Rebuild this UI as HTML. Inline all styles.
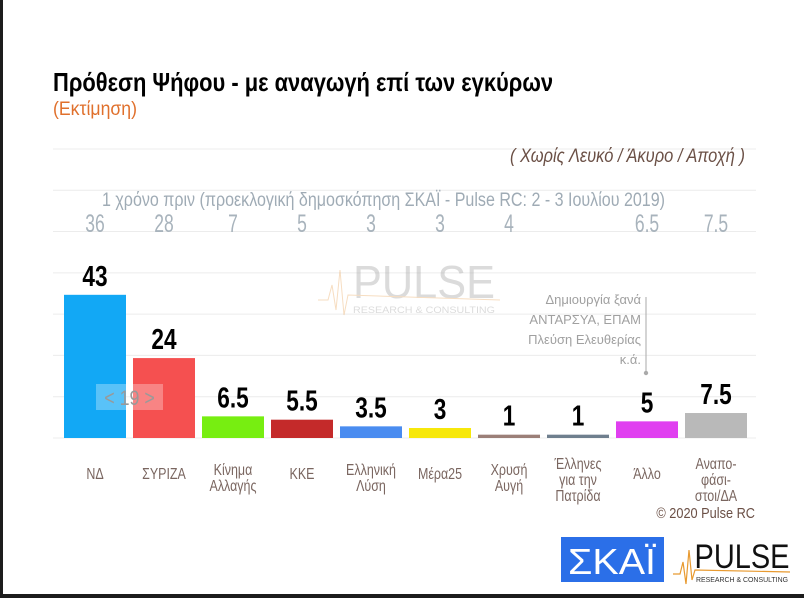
<!DOCTYPE html>
<html><head><meta charset="utf-8"><style>
html,body{margin:0;padding:0;background:#fff}
svg{display:block}
text{font-family:"Liberation Sans","DejaVu Sans",sans-serif}
</style></head><body>
<svg width="804" height="598" viewBox="0 0 804 598" xmlns="http://www.w3.org/2000/svg">
<rect x="0" y="0" width="804" height="598" fill="#fff"/>
<rect x="0" y="0" width="3" height="598" fill="#1c1c1c"/>
<rect x="0" y="594" width="804" height="4" fill="#1c1c1c"/>
<text x="53" y="91" font-size="26" font-weight="bold" fill="#000" textLength="500" lengthAdjust="spacingAndGlyphs">Πρόθεση Ψήφου - με αναγωγή επί των εγκύρων</text>
<text x="53" y="115" font-size="19" fill="#e0702c" textLength="84" lengthAdjust="spacingAndGlyphs">(Εκτίμηση)</text>
<g id="grid"></g>
<text x="745" y="162" font-size="19" font-style="italic" fill="#6b5046" text-anchor="end" textLength="235" lengthAdjust="spacingAndGlyphs">( Χωρίς Λευκό / Άκυρο / Αποχή )</text>
<text x="102" y="206" font-size="19" fill="#9fabb5" textLength="563" lengthAdjust="spacingAndGlyphs">1 χρόνο πριν (προεκλογική δημοσκόπηση ΣΚΑΪ - Pulse RC:  2 - 3 Ιουλίου 2019)</text>
<g opacity="0.35">
<text x="424" y="298" font-size="46" fill="#9a9a9a" text-anchor="middle" textLength="142" lengthAdjust="spacingAndGlyphs">PULSE</text>
<text x="424" y="313" font-size="9" fill="#9a9a9a" text-anchor="middle" textLength="142" lengthAdjust="spacingAndGlyphs">RESEARCH &amp; CONSULTING</text>
<polyline points="318,300 328,300 332,285 336,310 340,270 344,315 348,295 500,300" fill="none" stroke="#e8a050" stroke-width="1"/>
</g>
<g id="prev"></g>
<g id="bars"></g>
<g id="vals"></g>
<g id="cats"></g>
<g font-size="13" fill="#a0a0a0" text-anchor="end">
<text x="641" y="304">Δημιουργία ξανά</text>
<text x="641" y="324">ΑΝΤΑΡΣΥΑ, ΕΠΑΜ</text>
<text x="641" y="344">Πλεύση Ελευθερίας</text>
<text x="641" y="364">κ.ά.</text>
<line x1="646" y1="297" x2="646" y2="373" stroke="#aaa" stroke-width="1"/>
<circle cx="646" cy="373" r="2.2" fill="#aaa"/>
</g>
<g>
<rect x="96" y="384" width="67" height="26" fill="#fff" opacity="0.3"/>
<text x="129.5" y="405" font-size="21" fill="#999" text-anchor="middle" transform="translate(129.5,0) scale(0.85,1) translate(-129.5,0)">&lt; 19 &gt;</text>
</g>
<text x="755" y="518" font-size="15" fill="#6b5046" text-anchor="end" transform="translate(755,0) scale(0.85,1) translate(-755,0)">© 2020 Pulse RC</text>
<g>
<rect x="561" y="537" width="103" height="45" fill="#2b6fe8"/>
<text x="612" y="574" font-size="36" fill="#fff" text-anchor="middle" textLength="88" lengthAdjust="spacingAndGlyphs">ΣΚΑΪ</text>
</g>
<g>
<text x="742" y="568" font-size="34" fill="#111" text-anchor="middle" textLength="95" lengthAdjust="spacingAndGlyphs">PULSE</text>
<text x="742" y="582" font-size="7" fill="#333" text-anchor="middle" textLength="92" lengthAdjust="spacingAndGlyphs">RESEARCH &amp; CONSULTING</text>
<polyline points="673,574 680,574 683,562 686,584 689,550 692,580 695,570 790,572" fill="none" stroke="#e89a30" stroke-width="1.2"/>
</g>
</svg>
<script>
const categories = [["ΝΔ"],["ΣΥΡΙΖΑ"],["Κίνημα","Αλλαγής"],["ΚΚΕ"],["Ελληνική","Λύση"],["Μέρα25"],["Χρυσή","Αυγή"],["Έλληνες","για την","Πατρίδα"],["Άλλο"],["Αναπο-","φάσι-","στοι/ΔΑ"]];
const values = [43,24,6.5,5.5,3.5,3,1,1,5,7.5];
const previousValues = ["36","28","7","5","3","3","4","","6.5","7.5"];
const valueLabels = ["43","24","6.5","5.5","3.5","3","1","1","5","7.5"];
const colors = ["#12a8f5","#f55050","#77ee11","#c42a2a","#4a8cf0","#f7e80a","#9b7f78","#6f7f8e","#e03ff0","#b9b9b9"];
const gridTicks = [0,12.4,24.8,37.2,49.6,62,74.4,86.8];
const NS="http://www.w3.org/2000/svg";
const baseY=438, pxPer=3.33, x0=64, step=69, bw=62;
const yS=v=>baseY-v*pxPer;
const xS=i=>x0+i*step;
function mk(tag,attrs,parent){const e=document.createElementNS(NS,tag);for(const k in attrs)e.setAttribute(k,attrs[k]);parent.appendChild(e);return e;}
const grid=document.getElementById('grid');
gridTicks.forEach(t=>{const l=mk('line',{x1:53,x2:756,y1:yS(t),y2:yS(t),stroke:'#ececec','stroke-width':1},grid);

});
const bars=document.getElementById('bars'),vals=document.getElementById('vals'),cats=document.getElementById('cats'),prev=document.getElementById('prev');
values.forEach((v,i)=>{
 const x=xS(i), cx=x+bw/2;
 const r=mk('rect',{x:x,y:yS(v),width:bw,height:v*pxPer,fill:colors[i]},bars);
 
 
 const t=mk('text',{x:cx,y:yS(v)-9,'font-size':29,'font-weight':'bold',fill:'#000','text-anchor':'middle',transform:`translate(${cx},0) scale(0.78,1) translate(${-cx},0)`},vals);
 t.textContent=valueLabels[i];
 
 
 const p=mk('text',{x:cx,y:232,'font-size':25,fill:'#a8b3bc','text-anchor':'middle',transform:`translate(${cx},0) scale(0.7,1) translate(${-cx},0)`},prev);
 p.textContent=previousValues[i];
 
 
 const lines=categories[i];
 const startY = lines.length===1?479:(lines.length===2?475:469);
 lines.forEach((s,j)=>{
  const c=mk('text',{x:cx,y:startY+j*16,'font-size':16,fill:'#7a6660','text-anchor':'middle',transform:`translate(${cx},0) scale(0.78,1) translate(${-cx},0)`},cats);
  c.textContent=s;
  
  
 });
});
</script>
</body></html>
